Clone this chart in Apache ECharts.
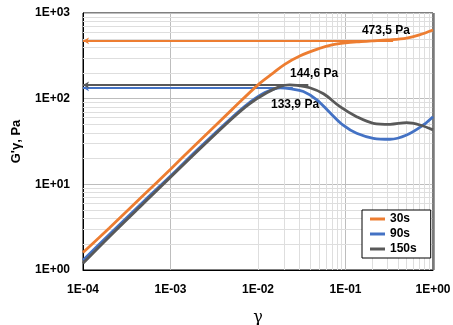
<!DOCTYPE html>
<html><head><meta charset="utf-8">
<script src="https://cdn.jsdelivr.net/npm/echarts@6/dist/echarts.min.js"></script>
<style>html,body{margin:0;padding:0;background:#fff}#c{width:453px;height:325px}</style>
</head><body><div id="c"></div>
<script>
const seriesNames = ['30s', '90s', '150s'];
const colors = ['#ED7D31', '#4472C4', '#595959'];
const xTickLabels = ['1E-04', '1E-03', '1E-02', '1E-01', '1E+00'];
const yTickLabels = ['1E+00', '1E+01', '1E+02', '1E+03'];

const gamma30 = [1e-4, 2e-4, 5e-4, 1e-3, 2e-3, 5e-3, 1e-2, 1.5e-2, 2e-2, 3e-2, 5e-2, 7e-2, 0.1, 0.15, 0.2, 0.3, 0.5, 0.7, 1];
const stress30 = [1.6, 3.1, 7.6, 15, 30, 74, 145, 200, 250, 315, 385, 425, 448, 463, 472, 485, 510, 555, 633];

const gamma90 = [1e-4, 2e-4, 5e-4, 1e-3, 2e-3, 5e-3, 8e-3, 1.2e-2, 1.8e-2, 2.4e-2, 3.3e-2, 4.7e-2, 6.7e-2, 9.4e-2, 0.134, 0.208, 0.323, 0.5, 0.774, 1];
const stress90 = [1.3, 2.6, 6.4, 12.5, 25, 60, 90, 118, 133.9, 130, 121, 97, 68, 49, 39.4, 34.5, 33.6, 37.7, 49.3, 61.6];

const gamma150 = [1e-4, 2e-4, 5e-4, 1e-3, 2e-3, 5e-3, 8e-3, 1.26e-2, 1.8e-2, 2.3e-2, 2.8e-2, 3.9e-2, 5.6e-2, 8.65e-2, 0.134, 0.208, 0.323, 0.5, 0.71, 1];
const stress150 = [1.2, 2.45, 6.1, 12.1, 24, 58, 87, 117, 139, 144.6, 143, 134, 114, 80.7, 61.6, 51.6, 50.2, 52.5, 49.3, 43.2];

// annotation values (plateau / peak) and where their guide lines end
const peakValues = [473.5, 133.9, 144.6];
const peakLabels = ['473,5 Pa', '133,9 Pa', '144,6 Pa'];
const guideEnd = [0.35, 0.025, 0.0376];
const labelPosX = [0.29, 0.0265, 0.0437];
const labelPosY = [616, 84.4, 194];

const minorX = [];
for (let e = -4; e < 0; e++) for (let m = 2; m <= 9; m++) minorX.push(m * Math.pow(10, e));
const minorY = [];
for (let e = 0; e < 3; e++) for (let m = 2; m <= 9; m++) minorY.push(m * Math.pow(10, e));

const FONT = 'Liberation Sans';
const gammas = [gamma30, gamma90, gamma150];
const stresses = [stress30, stress90, stress150];

const series = [];
series.push({
  type: 'line', name: 'minor', data: [[1e-4, 1]], showSymbol: false, lineStyle: {opacity: 0},
  silent: true, z: 1,
  markLine: {
    silent: true, symbol: ['none', 'none'], label: {show: false}, z: 1,
    lineStyle: {color: '#dedede', width: 1, type: 'solid'},
    emphasis: {disabled: true},
    data: minorX.map(v => ({xAxis: v})).concat(minorY.map(v => ({yAxis: v}))).concat([{xAxis: 1, lineStyle: {color: '#7a7a7a', width: 2.5}}])
  }
});
[0, 1, 2].forEach(i => {
  series.push({
    type: 'line', name: seriesNames[i],
    data: gammas[i].map((g, k) => [g, stresses[i][k]]),
    smooth: 0.35, showSymbol: false, z: 5,
    lineStyle: {color: colors[i], width: 2.8},
    itemStyle: {color: colors[i]},
    markLine: {
      silent: true, symbol: ['arrow', 'none'], symbolSize: [5, 6],
      label: {show: false},
      lineStyle: {color: colors[i], width: 2, type: 'solid'},
      data: [[{coord: [1e-4, peakValues[i]]}, {coord: [guideEnd[i], peakValues[i]]}]]
    },
    markPoint: {
      silent: true, symbol: 'circle', symbolSize: 0,
      label: {show: true, position: 'inside', formatter: '{b}', color: '#000', fontFamily: FONT, fontWeight: 'bold', fontSize: 12},
      data: [{name: peakLabels[i], coord: [labelPosX[i], labelPosY[i]]}]
    }
  });
});

const chart = echarts.init(document.getElementById('c'), null, {renderer: 'canvas'});
chart.setOption({
  animation: false,
  backgroundColor: '#fff',
  grid: {left: 83, top: 13, right: 20, bottom: 55, show: true, borderColor: '#000', borderWidth: 1,
    containLabel: false, outerBoundsMode: 'none'},
  legend: {
    data: seriesNames, orient: 'vertical', left: 362, top: 210, z: 20, zlevel: 1,
    backgroundColor: '#fff', borderColor: '#000', borderWidth: 1,
    padding: [3, 14, 3, 8], itemGap: 3, itemWidth: 15, itemHeight: 3, icon: 'rect',
    textStyle: {fontFamily: FONT, fontWeight: 'bold', fontSize: 12, color: '#000'}
  },
  xAxis: {
    type: 'log', logBase: 10, min: 1e-4, max: 1,
    name: 'γ', nameLocation: 'middle', nameGap: 40,
    nameTextStyle: {fontFamily: 'DejaVu Serif', fontSize: 16, color: '#000'},
    axisLine: {show: true, lineStyle: {color: '#000', width: 1}},
    axisTick: {show: false},
    axisLabel: {margin: 14, fontFamily: FONT, fontWeight: 'bold', fontSize: 12, color: '#000',
      formatter: v => xTickLabels[Math.round(Math.log10(v)) + 4]},
    splitLine: {show: true, lineStyle: {color: '#bdbdbd', width: 1}}
  },
  yAxis: {
    type: 'log', logBase: 10, min: 1, max: 1000,
    name: "G'γ, Pa", nameLocation: 'middle', nameGap: 60, nameRotate: 90,
    nameTextStyle: {fontFamily: FONT, fontWeight: 'bold', fontSize: 13, color: '#000'},
    axisLine: {show: true, lineStyle: {color: '#000', width: 1}},
    axisTick: {show: false},
    axisLabel: {margin: 13, fontFamily: FONT, fontWeight: 'bold', fontSize: 12, color: '#000',
      formatter: v => yTickLabels[Math.round(Math.log10(v))]},
    splitLine: {show: true, lineStyle: {color: '#bdbdbd', width: 1}}
  },
  series: series
});
</script></body></html>
